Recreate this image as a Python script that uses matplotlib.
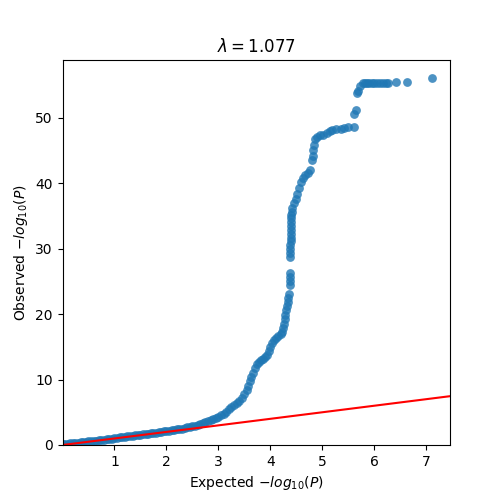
import matplotlib
matplotlib.use('Agg')
import matplotlib.pyplot as plt

# points (expected vs observed -log10 P)
expected = [0.0, 0.05, 0.1, 0.15, 0.2, 0.25, 0.3, 0.35, 0.4, 0.45,
            0.5, 0.55, 0.6, 0.65, 0.7, 0.75, 0.8, 0.85, 0.9, 0.95,
            1.0, 1.05, 1.1, 1.15, 1.2, 1.25, 1.3, 1.35, 1.4, 1.45,
            1.5, 1.55, 1.6, 1.65, 1.7, 1.75, 1.8, 1.85, 1.9, 1.95,
            2.0, 2.05, 2.1, 2.15, 2.2, 2.25, 2.3, 2.35, 2.4, 2.45,
            2.5, 2.55, 2.6, 2.65, 2.7, 2.75, 2.8, 2.85, 2.9, 2.95,
            3.0, 3.05, 3.1, 3.15, 3.2, 3.25, 3.3, 3.35, 3.4, 3.45,
            3.5, 3.54, 3.57, 3.6, 3.63, 3.66, 3.7, 3.74, 3.78, 3.82,
            3.86, 3.9, 3.94, 3.97, 4.0, 4.03, 4.06, 4.1, 4.15, 4.2,
            4.23, 4.25, 4.27, 4.28, 4.29, 4.3, 4.31, 4.33, 4.34, 4.36,
            4.37, 4.37, 4.37, 4.37,
            4.38, 4.38, 4.38, 4.38, 4.39, 4.39, 4.39, 4.39, 4.39, 4.4, 4.4, 4.4,
            4.41, 4.42, 4.45, 4.49, 4.52, 4.55, 4.58, 4.62, 4.67, 4.72, 4.77,
            4.8, 4.81, 4.82, 4.83, 4.85, 4.9, 4.96, 5.02, 5.09, 5.14, 5.19,
            5.27, 5.35, 5.42, 5.5, 5.6,
            5.6, 5.65, 5.67, 5.68, 5.72,
            5.78, 5.82, 5.86, 5.9, 5.95, 6.0, 6.05, 6.1, 6.16, 6.22, 6.27,
            6.41, 6.63, 7.1]
observed = [0.12, 0.16, 0.2, 0.24, 0.28, 0.32, 0.36, 0.4, 0.45, 0.5,
            0.54, 0.59, 0.64, 0.68, 0.73, 0.78, 0.84, 0.89, 0.94, 0.99,
            1.05, 1.1, 1.15, 1.2, 1.26, 1.31, 1.36, 1.41, 1.47, 1.52,
            1.58, 1.63, 1.68, 1.73, 1.79, 1.84, 1.9, 1.95, 2.01, 2.07,
            2.13, 2.19, 2.25, 2.31, 2.38, 2.45, 2.52, 2.6, 2.68, 2.77,
            2.86, 2.97, 3.08, 3.2, 3.33, 3.47, 3.62, 3.78, 3.95, 4.13,
            4.32, 4.55, 4.8, 5.1, 5.45, 5.8, 6.1, 6.4, 6.7, 7.2,
            7.8, 8.4, 9.0, 9.7, 10.4, 11.0, 11.7, 12.3, 12.7, 13.0,
            13.2, 13.5, 13.8, 14.4, 15.0, 15.6, 16.0, 16.3, 16.6, 16.9,
            17.2, 17.8, 18.5, 19.2, 19.9, 20.6, 21.2, 21.8, 22.4, 23.0,
            24.4, 25.0, 25.6, 26.2,
            28.7, 29.3, 29.9, 30.5, 31.1, 31.6, 32.2, 32.8, 33.4, 34.0, 34.6, 35.2,
            35.6, 36.2, 36.9, 37.6, 38.4, 39.2, 40.2, 40.8, 41.2, 41.6, 42.0,
            43.5, 44.2, 45.0, 45.8, 46.8, 47.1, 47.3, 47.4, 47.6, 47.9, 48.1,
            48.3, 48.3, 48.4, 48.5, 48.6,
            50.6, 51.2, 53.7, 54.1, 54.9,
            55.3, 55.3, 55.3, 55.3, 55.3, 55.3, 55.3, 55.3, 55.3, 55.3, 55.3,
            55.5, 55.5, 56.0]
lam = 1.077

fig, ax = plt.subplots(figsize=(5, 5), dpi=100)
ax.scatter(expected, observed, s=40, alpha=0.8, color='tab:blue', linewidths=0)
ax.axline((0, 0), slope=1, color='red')
ax.set_xlim(0, max(expected) * 1.05)
ax.set_ylim(0, max(observed) * 1.05)
ax.set_xticks([1, 2, 3, 4, 5, 6, 7])
ax.set_xlabel('Expected $-log_{10}(P)$')
ax.set_ylabel('Observed $-log_{10}(P)$')
ax.set_title('$\\lambda = %.3f$' % lam)
fig.savefig('out.png')
